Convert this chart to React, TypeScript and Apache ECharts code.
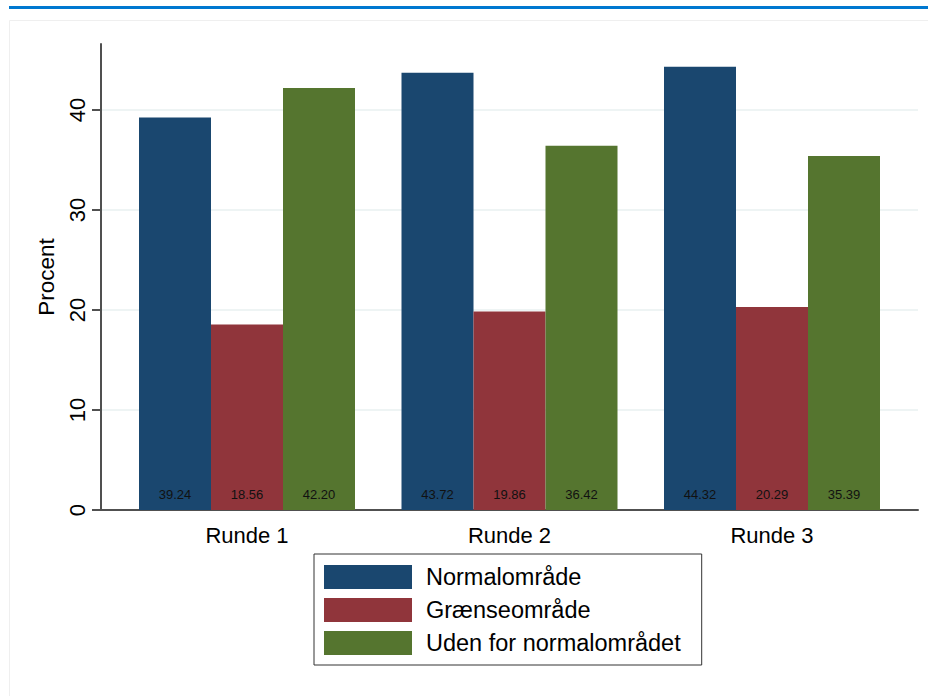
import React, { useEffect, useRef } from "react";
import * as echarts from "echarts";

const categories = ["Runde 1", "Runde 2", "Runde 3"];
const seriesNames = ["Normalområde", "Grænseområde", "Uden for normalområdet"];
const normal = [39.24, 43.72, 44.32];
const graense = [18.56, 19.86, 20.29];
const uden = [42.2, 36.42, 35.39];
const colors = ["#1a476f", "#90353b", "#55752f"];
const yTicksMax = 46.6;

const FONT = "'Liberation Sans', Arial, Helvetica, sans-serif";

export default function App() {
  const ref = useRef<HTMLDivElement>(null);
  useEffect(() => {
    if (!ref.current) return;
    const chart = echarts.init(ref.current, undefined, { renderer: "svg" });
    const values = [normal, graense, uden];
    chart.setOption({
      animation: false,
      backgroundColor: "#ffffff",
      textStyle: { fontFamily: FONT },
      graphic: [
        { type: "rect", shape: { x: 9, y: 6, width: 925, height: 3 }, style: { fill: "#0078d0" } },
        { type: "rect", shape: { x: 9.5, y: 20.5, width: 925, height: 690 }, style: { fill: "none", stroke: "#efefef", lineWidth: 1 } },
      ],
      grid: [
        { left: 101, top: 44, width: 817, height: 466 },
        { left: 115.75, top: 44, width: 787.5, height: 466 },
      ],
      xAxis: [
        {
          gridIndex: 0, type: "value", min: 0, max: 1,
          axisLine: { show: true, onZero: false, lineStyle: { color: "#505050", width: 2 } },
          axisTick: { show: false }, axisLabel: { show: false }, splitLine: { show: false },
        },
        {
          gridIndex: 1, type: "category", data: categories,
          axisLine: { show: false }, axisTick: { show: false },
          axisLabel: { fontSize: 22, color: "#000000", margin: 14, fontFamily: FONT },
        },
      ],
      yAxis: [
        {
          gridIndex: 0, type: "value", min: 0, max: yTicksMax, interval: 10,
          name: "Procent", nameLocation: "middle", nameRotate: 90, nameGap: 42,
          nameTextStyle: { fontSize: 22.5, color: "#000000", fontFamily: FONT },
          axisLine: { show: true, lineStyle: { color: "#505050", width: 2 } },
          axisTick: { show: true, length: 9, lineStyle: { color: "#505050", width: 2 } },
          axisLabel: { rotate: 90, fontSize: 22, color: "#000000", margin: 13, showMaxLabel: false, fontFamily: FONT },
          splitLine: { show: true, showMinLine: false, showMaxLine: false, lineStyle: { color: "#e8f0f1", width: 1.5 } },
        },
        {
          gridIndex: 1, type: "value", min: 0, max: yTicksMax,
          axisLine: { show: false }, axisTick: { show: false }, axisLabel: { show: false }, splitLine: { show: false },
        },
      ],
      legend: {
        orient: "vertical", left: 314, top: 554, selectedMode: false,
        itemWidth: 88, itemHeight: 24, itemGap: 9,
        padding: [11, 21, 10, 10],
        borderColor: "#333333", borderWidth: 1, borderRadius: 0,
        icon: "rect",
        textStyle: { fontSize: 23.5, color: "#000000", fontFamily: FONT, padding: [0, 0, 0, 9] },
        data: seriesNames,
      },
      series: seriesNames.map((name, i) => ({
        name, type: "bar", xAxisIndex: 1, yAxisIndex: 1,
        data: values[i], barWidth: 72, barGap: "0%",
        itemStyle: { color: colors[i] },
        label: {
          show: true, position: "insideBottom", distance: 9,
          fontSize: 13, color: "#111111", fontFamily: FONT,
          formatter: (p: any) => Number(p.value).toFixed(2),
        },
        emphasis: { disabled: true },
      })),
    });
    return () => chart.dispose();
  }, []);
  return <div ref={ref} style={{ position: "fixed", left: 0, top: 0, width: 928, height: 696 }} />;
}
